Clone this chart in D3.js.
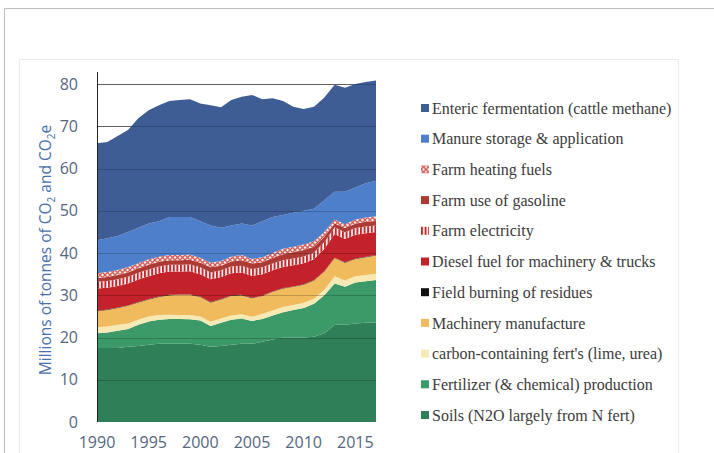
<!DOCTYPE html>
<meta charset="utf-8">
<style>
body { margin: 0; background: #fff; }
.tick-label { font-family: "Open Sans", sans-serif; fill: #55667f; font-size: 16px; }
.legend text { font-family: "Liberation Serif", "Times New Roman", serif; font-size: 16px; fill: #3b3b3b; }
</style>
<svg width="714" height="453"></svg>
<script src="https://d3js.org/d3.v7.min.js"></script>
<script>

var years = [1990, 1991, 1992, 1993, 1994, 1995, 1996, 1997, 1998, 1999,
             2000, 2001, 2002, 2003, 2004, 2005, 2006, 2007, 2008, 2009,
             2010, 2011, 2012, 2013, 2014, 2015, 2016, 2017];

// Mt CO2e per source
var soils       = [17.5, 17.5, 17.5, 17.8, 18.0, 18.3, 18.5, 18.5, 18.5, 18.5, 18.3, 17.8, 18.0, 18.3, 18.5, 18.5, 19.0, 19.5, 20.0, 20.0, 20.0, 20.2, 21.0, 23.0, 23.0, 23.3, 23.5, 23.5];
var fertProd    = [3.5, 3.7, 4.1, 4.2, 5.0, 5.5, 5.7, 5.9, 5.9, 5.8, 5.7, 4.9, 5.5, 5.9, 6.0, 5.4, 5.4, 5.7, 6.0, 6.5, 7.0, 7.8, 9.0, 9.8, 9.0, 9.7, 9.8, 10.1];
var carbonFert  = [1.4, 1.4, 1.4, 1.3, 1.2, 1.2, 1.1, 1.0, 0.9, 1.0, 1.0, 1.0, 1.0, 1.0, 1.0, 1.0, 1.2, 1.2, 1.2, 1.2, 1.2, 1.2, 1.3, 1.7, 1.5, 1.5, 1.5, 1.5];
var machinery   = [3.8, 3.9, 4.0, 4.2, 4.1, 4.0, 4.3, 4.6, 4.8, 4.8, 4.6, 4.6, 4.5, 4.7, 4.5, 4.4, 4.2, 4.4, 4.4, 4.3, 4.3, 4.3, 4.3, 4.3, 4.2, 4.1, 4.2, 4.3];
var burning     = [0.1, 0.1, 0.1, 0.1, 0.1, 0.1, 0.1, 0.1, 0.1, 0.1, 0.1, 0.1, 0.1, 0.1, 0.1, 0.1, 0.1, 0.1, 0.1, 0.1, 0.1, 0.1, 0.1, 0.1, 0.1, 0.1, 0.1, 0.1];
var diesel      = [5.3, 5.2, 5.1, 5.2, 5.3, 5.4, 5.5, 5.5, 5.4, 5.5, 5.3, 5.4, 5.2, 5.2, 5.3, 5.2, 5.1, 5.0, 5.0, 5.0, 5.0, 4.9, 5.3, 5.6, 5.5, 5.6, 5.6, 5.5];
var electricity = [1.6, 1.6, 1.6, 1.6, 1.6, 1.6, 1.6, 1.6, 1.6, 1.6, 1.6, 1.6, 1.6, 1.6, 1.6, 1.6, 1.6, 1.6, 1.6, 1.6, 1.6, 1.6, 1.6, 1.6, 1.6, 1.6, 1.6, 1.5];
var gasoline    = [0.9, 0.9, 1.0, 1.0, 1.1, 1.1, 1.1, 1.1, 1.1, 1.1, 1.1, 1.2, 1.1, 1.2, 1.3, 1.3, 1.2, 1.3, 1.4, 1.5, 1.5, 1.4, 1.2, 0.9, 1.0, 1.0, 1.1, 1.1];
var heating     = [1.1, 1.2, 1.2, 1.3, 1.2, 1.3, 1.2, 1.2, 1.2, 1.2, 1.2, 1.1, 1.1, 1.2, 1.2, 1.1, 1.2, 1.2, 1.3, 1.3, 1.3, 1.3, 1.2, 0.9, 0.9, 1.0, 1.0, 1.1];
var manure      = [7.8, 8.0, 8.0, 8.3, 8.4, 8.5, 8.4, 9.0, 9.0, 8.9, 8.6, 8.8, 7.9, 7.3, 7.5, 7.9, 8.5, 8.5, 8.0, 8.0, 8.0, 7.7, 7.5, 6.6, 7.7, 7.6, 8.1, 8.4];
var enteric     = [23.0, 22.8, 23.7, 24.1, 25.9, 26.8, 27.5, 27.5, 27.7, 27.9, 27.9, 28.5, 28.5, 29.7, 30.0, 30.9, 28.9, 28.1, 27.0, 25.1, 24.1, 24.1, 24.3, 25.3, 24.6, 24.5, 24.0, 23.7];

var yTicks = [0, 10, 20, 30, 40, 50, 60, 70, 80];
var xTicks = [1990, 1995, 2000, 2005, 2010, 2015];

// stacking order, bottom first
var series = [
  {key: "soils",       label: "Soils (N2O largely from N fert)",          values: soils,       fill: "#2f7f59"},
  {key: "fertProd",    label: "Fertilizer (& chemical) production",       values: fertProd,    fill: "#3c9a68"},
  {key: "carbonFert",  label: "carbon-containing fert's (lime, urea)",    values: carbonFert,  fill: "#f6e9b4"},
  {key: "machinery",   label: "Machinery manufacture",                    values: machinery,   fill: "#efbb5c"},
  {key: "burning",     label: "Field burning of residues",                values: burning,     fill: "#111111"},
  {key: "diesel",      label: "Diesel fuel for machinery & trucks",       values: diesel,      fill: "#c4222a"},
  {key: "electricity", label: "Farm electricity",                         values: electricity, fill: "url(#stripes)"},
  {key: "gasoline",    label: "Farm use of gasoline",                     values: gasoline,    fill: "#ad3a35"},
  {key: "heating",     label: "Farm heating fuels",                       values: heating,     fill: "url(#hatch)"},
  {key: "manure",      label: "Manure storage & application",             values: manure,      fill: "#4d7fcb"},
  {key: "enteric",     label: "Enteric fermentation (cattle methane)",    values: enteric,     fill: "#3e5d95"}
];

var table = years.map(function(y, i) {
  var row = {year: y};
  series.forEach(function(s) { row[s.key] = s.values[i]; });
  return row;
});

var svg = d3.select("svg");

// patterns
var defs = svg.append("defs");
var stripes = defs.append("pattern")
    .attr("id", "stripes")
    .attr("patternUnits", "userSpaceOnUse")
    .attr("width", 3.6)
    .attr("height", 10);
stripes.append("rect").attr("width", 3.6).attr("height", 10).attr("fill", "#c4262c");
stripes.append("rect").attr("x", 2).attr("width", 1.6).attr("height", 10).attr("fill", "#ffffff");

var hatch = defs.append("pattern")
    .attr("id", "hatch")
    .attr("patternUnits", "userSpaceOnUse")
    .attr("width", 5)
    .attr("height", 5);
hatch.append("rect").attr("width", 5).attr("height", 5).attr("fill", "#fbeeee");
hatch.append("path").attr("d", "M0,0L5,5M5,0L0,5").attr("stroke", "#d25b55").attr("stroke-width", 1.3);

// frames
svg.append("path")
    .attr("d", "M4.5,453V8.5H714")
    .attr("fill", "none")
    .attr("stroke", "#bdbdbd");
svg.append("path")
    .attr("d", "M19.5,453V59.5H678.5V453")
    .attr("fill", "none")
    .attr("stroke", "#ececec");

var x = d3.scaleLinear().domain([1990, 2017]).range([97, 376]);
var y = d3.scaleLinear().domain([0, 80]).range([422, 84]);

// gridlines behind
svg.append("g")
  .selectAll("line")
  .data(yTicks.slice(1))
  .enter().append("line")
    .attr("x1", x(1990))
    .attr("x2", x(2017))
    .attr("y1", function(d) { return Math.round(y(d)) + 0.5; })
    .attr("y2", function(d) { return Math.round(y(d)) + 0.5; })
    .attr("stroke", "#777");

var stack = d3.stack().keys(series.map(function(s) { return s.key; }));
var layers = stack(table);

var area = d3.area()
    .x(function(d) { return x(d.data.year); })
    .y0(function(d) { return y(d[0]); })
    .y1(function(d) { return y(d[1]); });

svg.append("g")
  .selectAll("path")
  .data(layers)
  .enter().append("path")
    .attr("fill", function(d, i) { return series[i].fill; })
    .attr("d", area);

// gridlines showing through
svg.append("g")
  .selectAll("line")
  .data(yTicks.slice(1))
  .enter().append("line")
    .attr("x1", x(1990))
    .attr("x2", x(2017))
    .attr("y1", function(d) { return Math.round(y(d)) + 0.5; })
    .attr("y2", function(d) { return Math.round(y(d)) + 0.5; })
    .attr("stroke", "#000")
    .attr("stroke-opacity", 0.2);

// y axis
svg.append("line")
    .attr("x1", 97.5).attr("x2", 97.5)
    .attr("y1", 72).attr("y2", y(0))
    .attr("stroke", "#222");

svg.append("g")
  .selectAll("text")
  .data(yTicks)
  .enter().append("text")
    .attr("class", "tick-label")
    .attr("x", 78)
    .attr("y", function(d) { return y(d); })
    .attr("dy", "0.35em")
    .attr("text-anchor", "end")
    .text(function(d) { return d; });

svg.append("g")
  .selectAll("text")
  .data(xTicks)
  .enter().append("text")
    .attr("class", "tick-label")
    .attr("x", function(d) { return x(d); })
    .attr("y", 448)
    .attr("text-anchor", "middle")
    .text(function(d) { return d; });

var title = svg.append("text")
    .attr("transform", "translate(51,250) rotate(-90)")
    .attr("text-anchor", "middle")
    .attr("font-family", "Open Sans, sans-serif")
    .attr("font-size", 15.5)
    .attr("fill", "#4a71ad");
title.append("tspan").text("Millions of tonnes of CO");
title.append("tspan").attr("font-size", 10).attr("dy", 4).text("2");
title.append("tspan").attr("dy", -4).text(" and CO");
title.append("tspan").attr("font-size", 10).attr("dy", 4).text("2");
title.append("tspan").attr("dy", -4).text("e");

// legend, top entry is the top layer
var legend = svg.append("g")
    .attr("class", "legend")
  .selectAll("g")
  .data(series.slice().reverse())
  .enter().append("g")
    .attr("transform", function(d, i) { return "translate(421," + (108 + i * 30.7) + ")"; });

legend.append("rect")
    .attr("x", 0)
    .attr("y", -4)
    .attr("width", 8)
    .attr("height", 8)
    .attr("fill", function(d) { return d.fill; });

legend.append("text")
    .attr("x", 11)
    .attr("dy", "0.35em")
    .text(function(d) { return d.label; });

</script>
